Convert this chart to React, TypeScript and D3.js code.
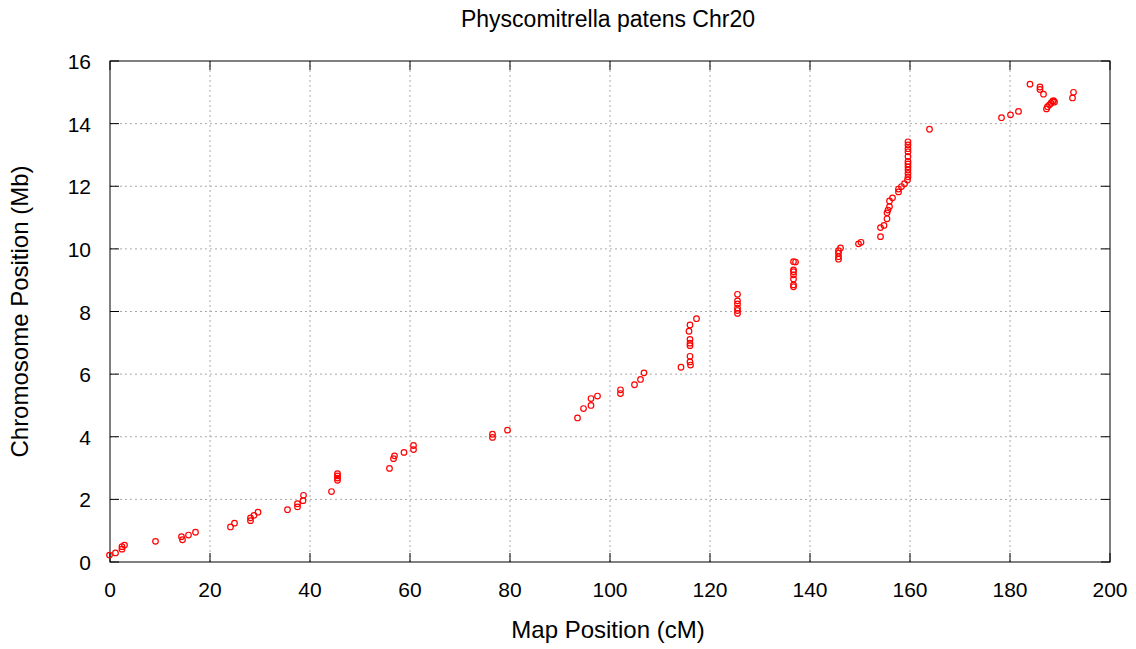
import React from "react";
import * as d3 from "d3";

// map position (cM) and chromosome position (Mb) of each marker
const mapPos = [
  -0.1, 1.1, 2.4, 2.4, 2.9, 9.1, 14.3, 14.5, 15.7, 17.1, 24.1, 24.9, 28.1, 28.1, 28.8, 29.6,
  35.5, 37.5, 37.5, 38.6, 38.7, 44.3, 45.5, 45.5, 45.5, 45.5, 55.9, 56.7, 56.9, 58.8, 60.7, 60.7,
  76.5, 76.5, 79.5, 93.5, 94.7, 96.2, 96.2, 97.5, 102.1, 102.1, 104.9, 106.1, 106.8,
  114.2, 116.1, 116.0, 116.0, 116.0, 116.0, 116.0, 115.8, 116.0, 117.3,
  125.5, 125.5, 125.5, 125.5, 125.5, 125.5,
  136.7, 136.7, 136.7, 136.7, 136.7, 136.7, 136.7, 137.1,
  145.7, 145.7, 145.7, 145.7, 146.1, 149.7, 150.2,
  154.1, 154.1, 154.8, 155.4, 155.4, 155.6, 155.9, 155.9, 156.5, 157.7, 157.7, 158.3, 158.9,
  159.5, 159.6, 159.6, 159.6, 159.6, 159.6, 159.6, 159.6, 159.6, 159.6, 159.6, 159.6,
  163.9, 178.3, 180.1, 181.7, 184.0, 186.0, 186.0, 186.7,
  187.3, 187.5, 187.9, 188.2, 188.5, 188.7, 188.9, 192.5, 192.7,
];
const chrPos = [
  0.22, 0.29, 0.41, 0.49, 0.54, 0.66, 0.81, 0.71, 0.86, 0.95, 1.12, 1.24, 1.32, 1.41, 1.49, 1.59,
  1.67, 1.76, 1.86, 1.96, 2.13, 2.25, 2.61, 2.68, 2.75, 2.82, 2.99, 3.3, 3.39, 3.5, 3.59, 3.72,
  3.98, 4.08, 4.21, 4.6, 4.9, 5.0, 5.22, 5.3, 5.38, 5.5, 5.66, 5.83, 6.04,
  6.22, 6.29, 6.39, 6.57, 6.91, 6.99, 7.11, 7.37, 7.57, 7.77,
  7.94, 8.03, 8.11, 8.24, 8.34, 8.55,
  8.79, 8.85, 9.04, 9.17, 9.27, 9.33, 9.59, 9.58,
  9.67, 9.75, 9.86, 9.94, 10.03, 10.16, 10.21,
  10.39, 10.68, 10.75, 10.96, 11.15, 11.24, 11.35, 11.53, 11.63, 11.82, 11.91, 11.99, 12.08,
  12.2, 12.3, 12.41, 12.52, 12.62, 12.71, 12.79, 12.95, 13.1, 13.2, 13.32, 13.42,
  13.82, 14.19, 14.28, 14.39, 15.26, 15.17, 15.09, 14.94,
  14.47, 14.54, 14.6, 14.65, 14.71, 14.73, 14.69, 14.82, 15.0,
];
const xTicks = [0, 20, 40, 60, 80, 100, 120, 140, 160, 180, 200];
const yTicks = [0, 2, 4, 6, 8, 10, 12, 14, 16];

const width = 1136;
const height = 649;
const marginLeft = 110;
const marginRight = 26;
const marginTop = 61;
const marginBottom = 87;
const font = "'Liberation Sans', Arial, sans-serif";

export default function App() {
  const x = d3.scaleLinear().domain([0, 200]).range([marginLeft, width - marginRight]);
  const y = d3.scaleLinear().domain([0, 16]).range([height - marginBottom, marginTop]);
  const x0 = x.range()[0];
  const x1 = x.range()[1];
  const y0 = y.range()[0];
  const y1 = y.range()[1];
  const tick = 9;

  return (
    <svg
      width={width}
      height={height}
      style={{ position: "absolute", left: 0, top: 0, background: "white" }}
      fontFamily={font}
    >
      <rect width={width} height={height} fill="white" />
      {/* grid */}
      {xTicks.slice(1, -1).map((t) => (
        <line key={"gx" + t} x1={x(t)} x2={x(t)} y1={y0} y2={y1} stroke="#aaa" strokeDasharray="2,3" />
      ))}
      {yTicks.slice(1, -1).map((t) => (
        <line key={"gy" + t} x1={x0} x2={x1} y1={y(t)} y2={y(t)} stroke="#aaa" strokeDasharray="2,3" />
      ))}
      {/* ticks, mirrored */}
      {xTicks.map((t) => (
        <g key={"tx" + t} stroke="black">
          <line x1={x(t)} x2={x(t)} y1={y0} y2={y0 - tick} />
          <line x1={x(t)} x2={x(t)} y1={y1} y2={y1 + tick} />
        </g>
      ))}
      {yTicks.map((t) => (
        <g key={"ty" + t} stroke="black">
          <line x1={x0} x2={x0 + tick} y1={y(t)} y2={y(t)} />
          <line x1={x1} x2={x1 - tick} y1={y(t)} y2={y(t)} />
        </g>
      ))}
      <rect x={x0} y={y1} width={x1 - x0} height={y0 - y1} fill="none" stroke="black" />
      {/* tick labels */}
      {xTicks.map((t) => (
        <text key={"lx" + t} x={x(t)} y={y0 + 35} textAnchor="middle" fontSize={21}>
          {t}
        </text>
      ))}
      {yTicks.map((t) => (
        <text key={"ly" + t} x={x0 - 19} y={y(t) + 8} textAnchor="end" fontSize={21}>
          {t}
        </text>
      ))}
      {/* points */}
      {mapPos.map((m, i) => (
        <circle key={i} cx={x(m)} cy={y(chrPos[i])} r={2.8} fill="none" stroke="red" strokeWidth={1.2} />
      ))}
      <text x={608} y={27} textAnchor="middle" fontSize={23}>
        Physcomitrella patens Chr20
      </text>
      <text x={608} y={638} textAnchor="middle" fontSize={24}>
        Map Position (cM)
      </text>
      <text
        transform={`translate(28,${(y0 + y1) / 2}) rotate(-90)`}
        textAnchor="middle"
        fontSize={24}
      >
        Chromosome Position (Mb)
      </text>
    </svg>
  );
}
